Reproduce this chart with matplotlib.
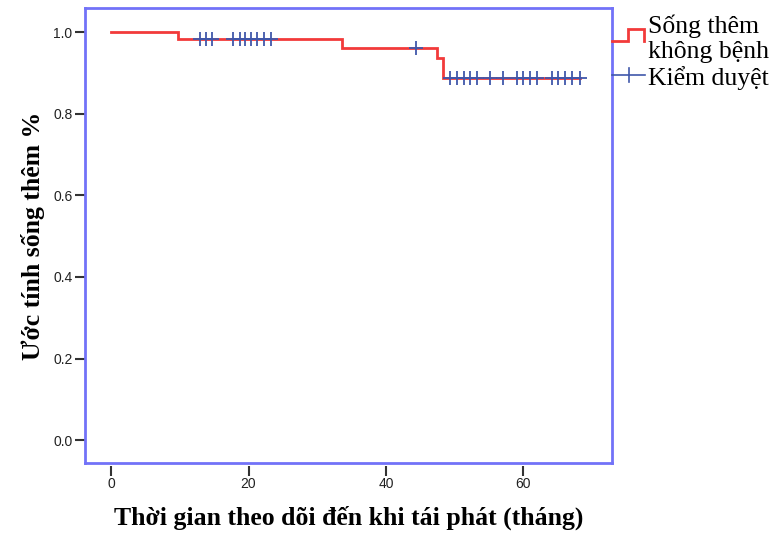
import matplotlib
matplotlib.use("Agg")
import matplotlib.pyplot as plt
from matplotlib.lines import Line2D
import numpy as np

# Kaplan-Meier estimate: times (months) where the curve drops and the level after each drop
event_times = [0.0, 9.8, 33.6, 47.4, 48.3]
survival = [1.0, 0.983, 0.961, 0.936, 0.887]
followup_end = 68.2

# censored follow-up times (months)
censored_times = [13.0, 13.8, 14.7, 17.8, 18.7, 19.5, 20.4, 21.3, 22.2, 23.2,
                  44.4,
                  49.3, 50.3, 51.3, 52.3, 53.2, 55.2, 57.1,
                  59.1, 60.0, 61.0, 62.0, 64.2, 65.1, 66.1, 67.1, 68.2]

x_ticks = [0, 20, 40, 60]
y_ticks = [0.0, 0.2, 0.4, 0.6, 0.8, 1.0]

xlabel = "Thời gian theo dõi đến khi tái phát (tháng)"
ylabel = "Ước tính sống thêm %"
legend_curve = ["Sống thêm", "không bệnh"]
legend_censor = "Kiểm duyệt"

RED = "#f23a3a"
BLUE = "#4057aa"
FRAME = "#7272f8"

W, H = 770, 534
fig = plt.figure(figsize=(W / 100, H / 100), dpi=100)
ax = fig.add_axes([85 / W, 1 - 463 / H, (612 - 85) / W, (463 - 8) / H])

# step curve
xs = event_times + [followup_end]
ys = survival + [survival[-1]]
ax.step(xs, ys, where="post", color=RED, lw=2.0, solid_joinstyle="miter", zorder=3)

# censor marks placed on the curve
def level_at(t):
    idx = np.searchsorted(event_times, t, side="right") - 1
    return survival[idx]

cy = [level_at(t) for t in censored_times]
ax.plot(censored_times, cy, linestyle="none", marker="+", markersize=10,
        markeredgewidth=1.3, color=BLUE, zorder=4)

ax.set_xlim(-3.8, 72.9)
ax.set_ylim(-0.056, 1.059)

for s in ax.spines.values():
    s.set_color(FRAME)
    s.set_linewidth(2.0)

tick_font = dict(family="Liberation Sans", size=10)
ax.set_yticks(y_ticks)
ax.set_yticklabels([f"{v:.1f}" for v in y_ticks], fontdict=tick_font, color="#222222")
ax.tick_params(axis="y", direction="out", length=7, width=1.5, color="#333333", pad=2)

# x ticks sit slightly below the frame
ax.set_xticks([])
sec = ax.secondary_xaxis(-0.007)
sec.set_xticks(x_ticks)
sec.set_xticklabels([str(v) for v in x_ticks], fontdict=tick_font, color="#222222")
sec.tick_params(axis="x", direction="out", length=7, width=1.5, color="#333333", pad=1)
sec.spines["bottom"].set_visible(False)

label_font = dict(family="Liberation Serif", weight="bold", size=18.5)
ax.set_xlabel(xlabel, fontdict=label_font)
ax.xaxis.set_label_coords(0.5, -0.121)
ax.xaxis.label.set_va("center")
ax.set_ylabel(ylabel, fontdict=label_font)
ax.yaxis.set_label_coords(-0.098, 0.5)
ax.yaxis.label.set_va("center")

# legend drawn outside the frame on the right
def fx(px):
    return px / W

def fy(py):
    return 1 - py / H

icon = Line2D([fx(612), fx(628), fx(628), fx(644), fx(644)],
              [fy(41), fy(41), fy(29), fy(29), fy(41)],
              transform=fig.transFigure, color=RED, lw=2.0,
              solid_joinstyle="miter", clip_on=False)
fig.add_artist(icon)
cline = Line2D([fx(612), fx(645)], [fy(75), fy(75)], transform=fig.transFigure,
               color=BLUE, lw=1.2, clip_on=False)
fig.add_artist(cline)
cmark = Line2D([fx(629), fx(629)], [fy(68), fy(82)], transform=fig.transFigure,
               color=BLUE, lw=1.2, clip_on=False)
fig.add_artist(cmark)

leg_font = dict(family="Liberation Serif", size=18.5, color="black")
fig.text(fx(648), fy(33), legend_curve[0], va="baseline", ha="left", **leg_font)
fig.text(fx(648), fy(58), legend_curve[1], va="baseline", ha="left", **leg_font)
fig.text(fx(648), fy(85), legend_censor, va="baseline", ha="left", **leg_font)

fig.savefig("out.png", dpi=100, facecolor="white")
